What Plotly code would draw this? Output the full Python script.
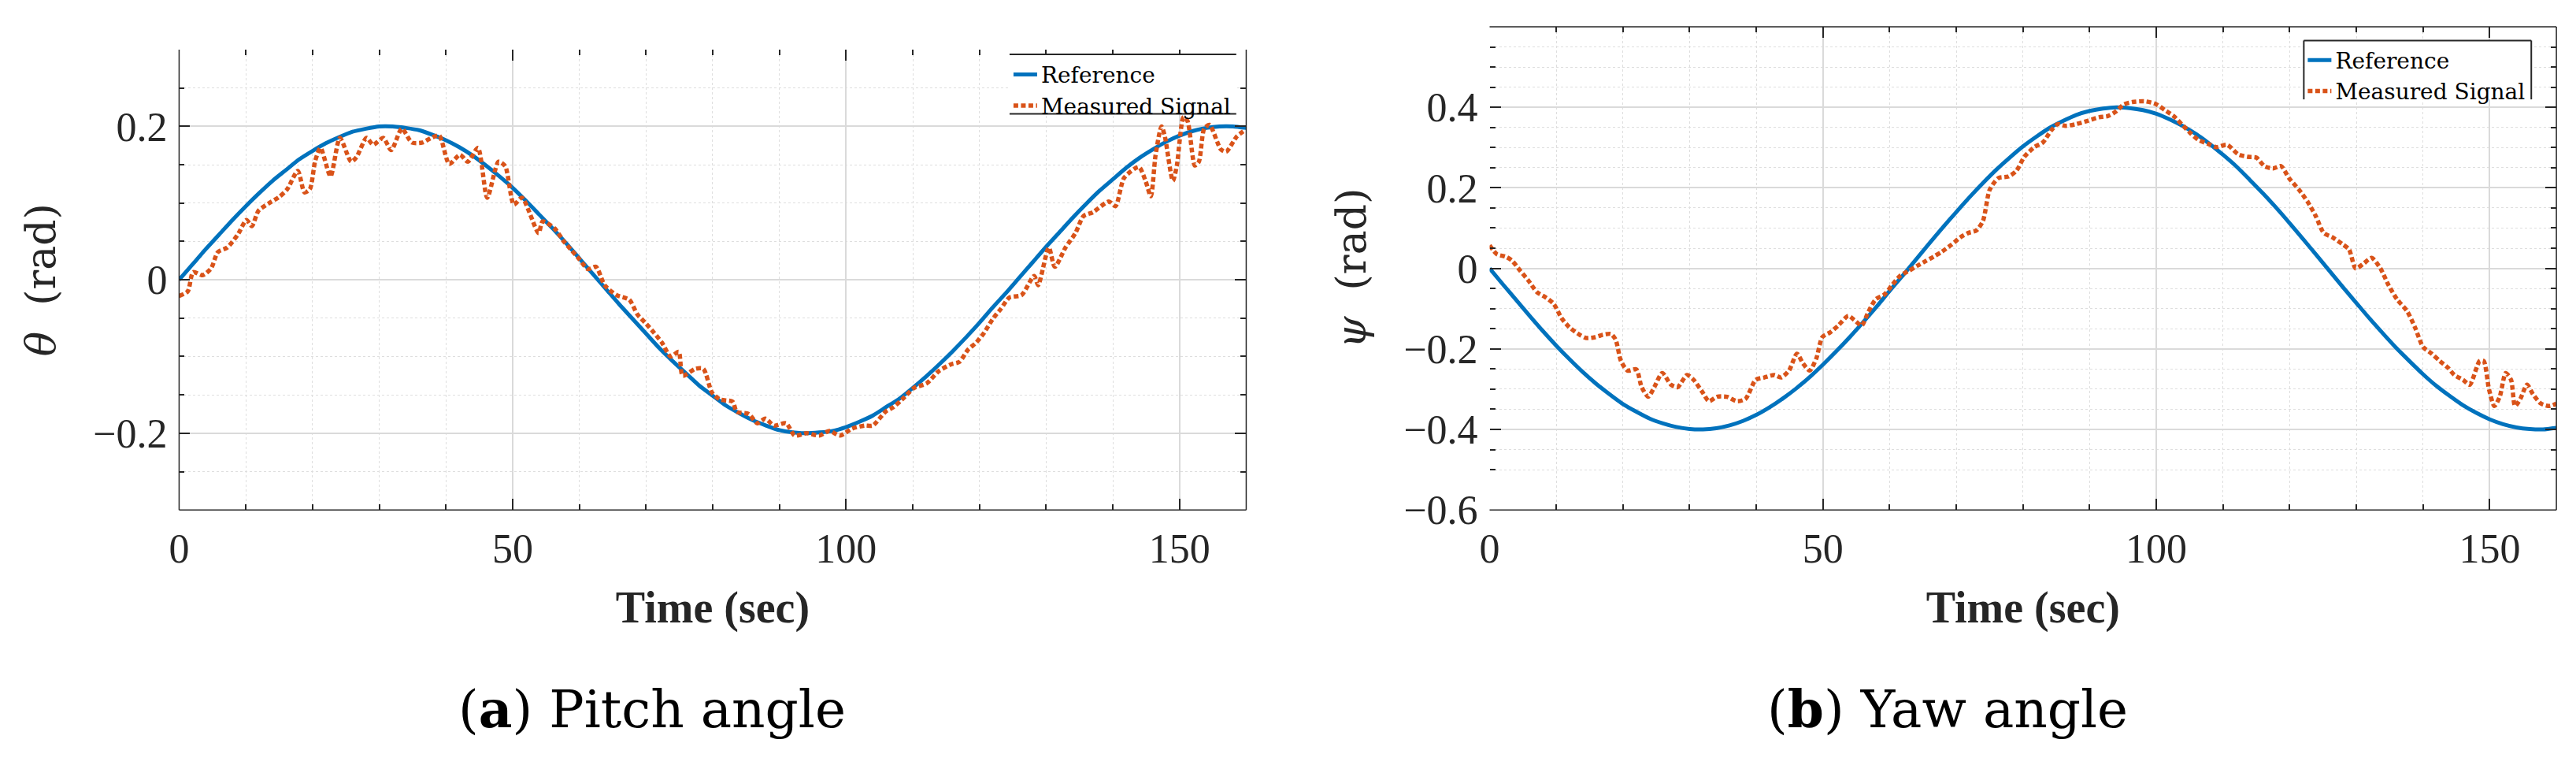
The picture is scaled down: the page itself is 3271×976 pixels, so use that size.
import plotly.graph_objects as go

W, H = 3271, 976

# ---------------- data ----------------
ref_time = list(range(0, 161, 2))

pitch_reference = [
    0.000, 0.020, 0.040, 0.059, 0.078, 0.096, 0.113, 0.129, 0.143, 0.157,
    0.168, 0.178, 0.186, 0.193, 0.197, 0.200, 0.200, 0.198, 0.195, 0.189,
    0.182, 0.173, 0.162, 0.149, 0.135, 0.120, 0.103, 0.085, 0.067, 0.048,
    0.028, 0.008, -0.012, -0.032, -0.051, -0.070, -0.089, -0.106, -0.122, -0.138,
    -0.151, -0.164, -0.174, -0.183, -0.190, -0.196, -0.199, -0.200, -0.199, -0.197,
    -0.192, -0.185, -0.177, -0.166, -0.155, -0.141, -0.126, -0.110, -0.093, -0.075,
    -0.056, -0.036, -0.017, 0.003, 0.023, 0.043, 0.062, 0.081, 0.099, 0.116,
    0.131, 0.146, 0.159, 0.170, 0.180, 0.188, 0.194, 0.198, 0.200, 0.200,
    0.198,
]

yaw_reference = [
    0.000, -0.040, -0.079, -0.118, -0.156, -0.192, -0.226, -0.258, -0.287, -0.313,
    -0.337, -0.356, -0.373, -0.385, -0.394, -0.399, -0.400, -0.397, -0.390, -0.379,
    -0.364, -0.345, -0.323, -0.298, -0.270, -0.239, -0.206, -0.171, -0.134, -0.096,
    -0.056, -0.017, 0.023, 0.063, 0.102, 0.140, 0.177, 0.212, 0.245, 0.275,
    0.303, 0.327, 0.349, 0.366, 0.381, 0.391, 0.397, 0.400, 0.398, 0.393,
    0.384, 0.370, 0.353, 0.333, 0.309, 0.282, 0.253, 0.220, 0.186, 0.150,
    0.112, 0.073, 0.033, -0.007, -0.047, -0.086, -0.125, -0.162, -0.198, -0.231,
    -0.263, -0.292, -0.317, -0.340, -0.359, -0.375, -0.387, -0.395, -0.399, -0.400,
    -0.396,
]

pitch_meas_time = [
    0, 1.3, 2.1, 3.5, 4.8, 5.8, 7.2, 8.8, 10.1, 10.9, 11.9, 13.5, 15.0, 16.2,
    17.8, 18.8, 19.6, 20.4, 21.2, 22.7, 24.1, 25.8, 26.6, 28.1, 29.1, 30.6,
    31.8, 33.4, 34.9, 36.5, 37.8, 39.0, 40.5, 42.1, 43.3, 44.8, 46.2, 47.9,
    48.9, 50.2, 51.4, 53.9, 54.5, 56.3, 57.6, 58.8, 60.0, 61.3, 62.5, 63.8,
    65.6, 67.5, 68.7, 70.0, 71.2, 72.4, 73.7, 74.9, 75.5, 77.4, 78.6, 79.9,
    81.1, 83.0, 83.6, 85.4, 86.7, 87.9, 89.2, 91.0, 92.3, 94.1, 96.0, 97.5,
    99.1, 100.9, 102.8, 104.0, 105.9, 107.1, 108.4, 110.2, 112.1, 113.9,
    115.8, 117.0, 118.3, 119.5, 120.7, 122.0, 123.2, 124.5, 126.3, 128.2,
    128.8, 130.4, 131.3, 132.9, 134.4, 135.6, 137.0, 139.4, 140.4, 141.7,
    143.9, 144.9, 145.7, 146.4, 147.3, 147.8, 149.0, 149.6, 150.6, 151.2,
    152.3, 152.9, 153.7, 154.5, 156.2, 157.0, 158.6, 159.8,
]
pitch_measured = [
    -0.021, -0.015, 0.010, 0.006, 0.015, 0.036, 0.042, 0.059, 0.078, 0.070,
    0.090, 0.100, 0.108, 0.118, 0.142, 0.114, 0.118, 0.155, 0.172, 0.135,
    0.185, 0.154, 0.160, 0.185, 0.176, 0.185, 0.169, 0.197, 0.179, 0.179,
    0.185, 0.188, 0.151, 0.163, 0.154, 0.172, 0.107, 0.154, 0.148, 0.098,
    0.107, 0.061, 0.076, 0.067, 0.051, 0.039, 0.027, 0.014, 0.017, -0.007,
    -0.020, -0.026, -0.045, -0.057, -0.069, -0.082, -0.100, -0.094, -0.125, -0.116,
    -0.116, -0.147, -0.156, -0.159, -0.172, -0.175, -0.187, -0.181, -0.190, -0.187,
    -0.203, -0.200, -0.203, -0.197, -0.203, -0.194, -0.190, -0.190, -0.172, -0.166,
    -0.156, -0.141, -0.135, -0.119, -0.110, -0.107, -0.091, -0.082, -0.069, -0.051,
    -0.038, -0.023, -0.020, 0.005, -0.007, 0.042, 0.017, 0.042, 0.061, 0.083,
    0.088, 0.102, 0.096, 0.133, 0.147, 0.129, 0.109, 0.162, 0.200, 0.187,
    0.129, 0.149, 0.212, 0.207, 0.149, 0.154, 0.197, 0.202, 0.170, 0.167,
    0.187, 0.195,
]

yaw_meas_time = [
    0, 1.1, 2.4, 3.3, 4.6, 5.8, 7.1, 8.3, 9.6, 10.8, 12.0, 13.5, 14.5, 15.8,
    17.0, 18.2, 18.9, 19.7, 20.7, 22.0, 22.8, 23.8, 24.7, 25.9, 27.2, 28.2,
    29.6, 30.6, 31.9, 32.9, 34.1, 35.6, 37.1, 38.4, 39.9, 41.2, 42.7, 43.7,
    44.9, 46.1, 47.0, 48.0, 49.0, 49.9, 51.1, 52.3, 53.8, 54.8, 55.8, 56.7,
    57.9, 59.2, 60.4, 61.6, 62.9, 64.1, 65.4, 66.6, 67.8, 69.3, 70.6, 71.8,
    73.0, 74.0, 75.0, 76.3, 77.8, 79.0, 80.2, 81.7, 83.0, 84.2, 85.2, 86.4,
    87.9, 89.6, 91.4, 92.7, 93.9, 95.1, 96.4, 98.2, 99.8, 101.3, 102.6, 103.8,
    105.1, 106.3, 107.8, 109.0, 110.6, 112.3, 113.7, 115.0, 116.2, 117.5,
    118.7, 119.9, 121.4, 122.7, 123.9, 125.1, 126.4, 128.0, 128.9, 129.9,
    131.1, 132.3, 133.6, 134.8, 136.1, 137.6, 138.8, 140.0, 141.3, 142.5,
    143.8, 144.7, 146.0, 147.0, 148.5, 149.1, 149.9, 150.7, 151.5, 152.4,
    153.2, 153.8, 154.6, 155.6, 156.5, 157.7, 159.0, 160.0,
]
yaw_measured = [
    0.057, 0.035, 0.029, 0.020, -0.006, -0.030, -0.059, -0.071, -0.088, -0.124,
    -0.147, -0.165, -0.173, -0.171, -0.165, -0.163, -0.177, -0.230, -0.254, -0.251,
    -0.295, -0.319, -0.295, -0.260, -0.289, -0.295, -0.265, -0.277, -0.307, -0.330,
    -0.319, -0.319, -0.330, -0.324, -0.277, -0.271, -0.265, -0.271, -0.254, -0.212,
    -0.236, -0.254, -0.224, -0.171, -0.159, -0.142, -0.118, -0.130, -0.142, -0.112,
    -0.077, -0.065, -0.041, -0.018, -0.006, 0.006, 0.018, 0.029, 0.041, 0.059,
    0.077, 0.088, 0.094, 0.118, 0.195, 0.224, 0.228, 0.242, 0.277, 0.301,
    0.313, 0.342, 0.358, 0.354, 0.358, 0.366, 0.375, 0.378, 0.389, 0.407,
    0.413, 0.415, 0.409, 0.393, 0.378, 0.358, 0.336, 0.319, 0.309, 0.301,
    0.307, 0.283, 0.277, 0.275, 0.254, 0.248, 0.254, 0.224, 0.195, 0.165,
    0.130, 0.088, 0.077, 0.059, 0.047, 0.000, 0.012, 0.026, 0.000, -0.041,
    -0.077, -0.106, -0.147, -0.195, -0.212, -0.230, -0.248, -0.265, -0.277, -0.289,
    -0.230, -0.230, -0.301, -0.342, -0.319, -0.260, -0.277, -0.342, -0.324, -0.289,
    -0.313, -0.336, -0.342, -0.336,
]

x_tick_vals = [0, 50, 100, 150]
x_minor_vals = [10, 20, 30, 40, 60, 70, 80, 90, 110, 120, 130, 140, 160]
pitch_tick_vals = [-0.2, 0, 0.2]
pitch_minor_vals = [-0.3, -0.25, -0.15, -0.1, -0.05, 0.05, 0.1, 0.15, 0.25, 0.3]
yaw_tick_vals = [-0.6, -0.4, -0.2, 0, 0.2, 0.4]
yaw_minor_vals = [-0.5, -0.45, -0.35, -0.3, -0.25, -0.15, -0.1, -0.05,
                  0.05, 0.1, 0.15, 0.25, 0.3, 0.35, 0.45, 0.5, 0.55]

series_names = ["Reference", "Measured Signal"]
captions = ["(<b>a</b>) Pitch angle", "(<b>b</b>) Yaw angle"]

# ---------------- style ----------------
BLUE = "#0072BD"
ORANGE = "#D95319"
AX = "#262626"
TICK_FONT = dict(family="Liberation Serif", size=52, color=AX)

def px_x(p):
    return p / W

def px_y(p):
    return 1 - p / H

def xaxis(domain, anchor):
    return dict(
        domain=domain, anchor=anchor, range=[0, 160],
        tickmode="array", tickvals=x_tick_vals,
        ticks="inside", ticklen=14, tickwidth=1.5, tickcolor=AX,
        showline=False, mirror="ticks", zeroline=False,
        showgrid=True, gridcolor="#dadada", gridwidth=1.5,
        minor=dict(tickmode="array", tickvals=x_minor_vals, ticks="inside",
                   ticklen=7, tickwidth=1.5, tickcolor=AX, showgrid=True,
                   gridcolor="#dedede", gridwidth=1.2, griddash="dot"),
        tickfont=TICK_FONT, ticklabelstandoff=14,
        title=dict(text="<b>Time (sec)</b>", standoff=26,
                   font=dict(family="Liberation Serif", size=56, color=AX)),
    )

def yaxis(domain, anchor, rng, vals, minor_vals, title):
    return dict(
        domain=domain, anchor=anchor, range=rng,
        tickmode="array", tickvals=vals,
        ticks="inside", ticklen=14, tickwidth=1.5, tickcolor=AX,
        showline=False, mirror="ticks", zeroline=False,
        showgrid=True, gridcolor="#dadada", gridwidth=1.5,
        minor=dict(tickmode="array", tickvals=minor_vals, ticks="inside",
                   ticklen=7, tickwidth=1.5, tickcolor=AX, showgrid=True,
                   gridcolor="#dedede", gridwidth=1.2, griddash="dot"),
        tickfont=TICK_FONT, ticklabelstandoff=14,
        title=dict(text=title, standoff=30,
                   font=dict(family="DejaVu Serif", size=52, color=AX)),
    )

fig = go.Figure()

panels = [
    ("x", "y", "legend", pitch_reference, pitch_meas_time, pitch_measured),
    ("x2", "y2", "legend2", yaw_reference, yaw_meas_time, yaw_measured),
]
for xa, ya, lg, ref_vals, mt, mv in panels:
    fig.add_trace(go.Scatter(
        x=ref_time, y=ref_vals, mode="lines", name=series_names[0],
        line=dict(color=BLUE, width=5, shape="spline", smoothing=0.6),
        xaxis=xa, yaxis=ya, legend=lg))
    fig.add_trace(go.Scatter(
        x=mt, y=mv, mode="lines", name=series_names[1],
        line=dict(color=ORANGE, width=5.5, dash="6px,3.5px", shape="spline",
                  smoothing=0.7),
        xaxis=xa, yaxis=ya, legend=lg))

L_X = [px_x(215.3), px_x(1575.7)]
L_Y = [px_y(667), px_y(65)]
R_X = [px_x(1886), px_x(3246)]
R_Y = [px_y(667), px_y(35)]

legend_font = dict(family="DejaVu Serif", size=28, color="black")
fig.update_layout(
    width=W, height=H, autosize=False,
    margin=dict(l=0, r=0, t=0, b=0),
    paper_bgcolor="white", plot_bgcolor="white",
    xaxis=xaxis(L_X, "y"),
    yaxis=yaxis(L_Y, "x", [-0.3, 0.3], pitch_tick_vals, pitch_minor_vals,
                "<i>θ</i>\u00a0\u00a0(rad)"),
    xaxis2=xaxis(R_X, "y2"),
    yaxis2=yaxis(R_Y, "x2", [-0.6, 0.6], yaw_tick_vals, yaw_minor_vals,
                 "<i>ψ</i>\u00a0\u00a0(rad)"),
    legend=dict(x=px_x(1274), y=px_y(72), xanchor="left", yanchor="top",
                bgcolor="rgba(0,0,0,0)", borderwidth=0, font=legend_font,
                tracegroupgap=0),
    legend2=dict(x=px_x(2924), y=px_y(53), xanchor="left", yanchor="top",
                 bgcolor="rgba(0,0,0,0)", borderwidth=0, font=legend_font,
                 tracegroupgap=0),
    showlegend=True,
)

# axis box lines (left panel: no top edge; right panel: no left edge)
def dline(xref, yref, x0, y0, x1, y1, w=1.5):
    return dict(type="line", xref=xref, yref=yref, x0=x0, y0=y0, x1=x1, y1=y1,
                line=dict(color=AX, width=w), layer="above")

def white_box(x0, y0, x1, y1):
    return dict(type="rect", xref="paper", yref="paper",
                x0=px_x(x0), y0=px_y(y0), x1=px_x(x1), y1=px_y(y1),
                line=dict(width=0), fillcolor="white", layer="above")

shapes = [
    dline("x domain", "y domain", 0, 0, 0, 1),
    dline("x domain", "y domain", 0, 0, 1, 0),
    dline("x domain", "y domain", 1, 0, 1, 1),
    dline("x2 domain", "y2 domain", 0, 0, 1, 0),
    dline("x2 domain", "y2 domain", 1, 0, 1, 1),
    dline("x2 domain", "y2 domain", 0, 1, 1, 1),
    # legend backgrounds and frame pieces
    white_box(1274, 71, 1563, 149),
    white_box(2924, 53, 3214, 130),
    dline("paper", "paper", px_x(1274), px_y(71), px_x(1563), px_y(71), 2),
    dline("paper", "paper", px_x(1274), px_y(149), px_x(1563), px_y(149), 2),
    dline("paper", "paper", px_x(2924), px_y(53), px_x(3214), px_y(53), 2),
    dline("paper", "paper", px_x(2924), px_y(53), px_x(2924), px_y(130), 2),
    dline("paper", "paper", px_x(3214), px_y(53), px_x(3214), px_y(130), 2),
]
fig.update_layout(shapes=shapes)

cap_x = [px_x(818), px_x(2470)]
for cx, text in zip(cap_x, captions):
    fig.add_annotation(
        x=cx, y=px_y(928), xref="paper", yref="paper", showarrow=False,
        xanchor="center", yanchor="middle", text=text,
        font=dict(family="DejaVu Serif", size=66, color="black"))

fig.write_html("out.html", config={"displayModeBar": False},
               post_script="document.body.style.margin='0';")
